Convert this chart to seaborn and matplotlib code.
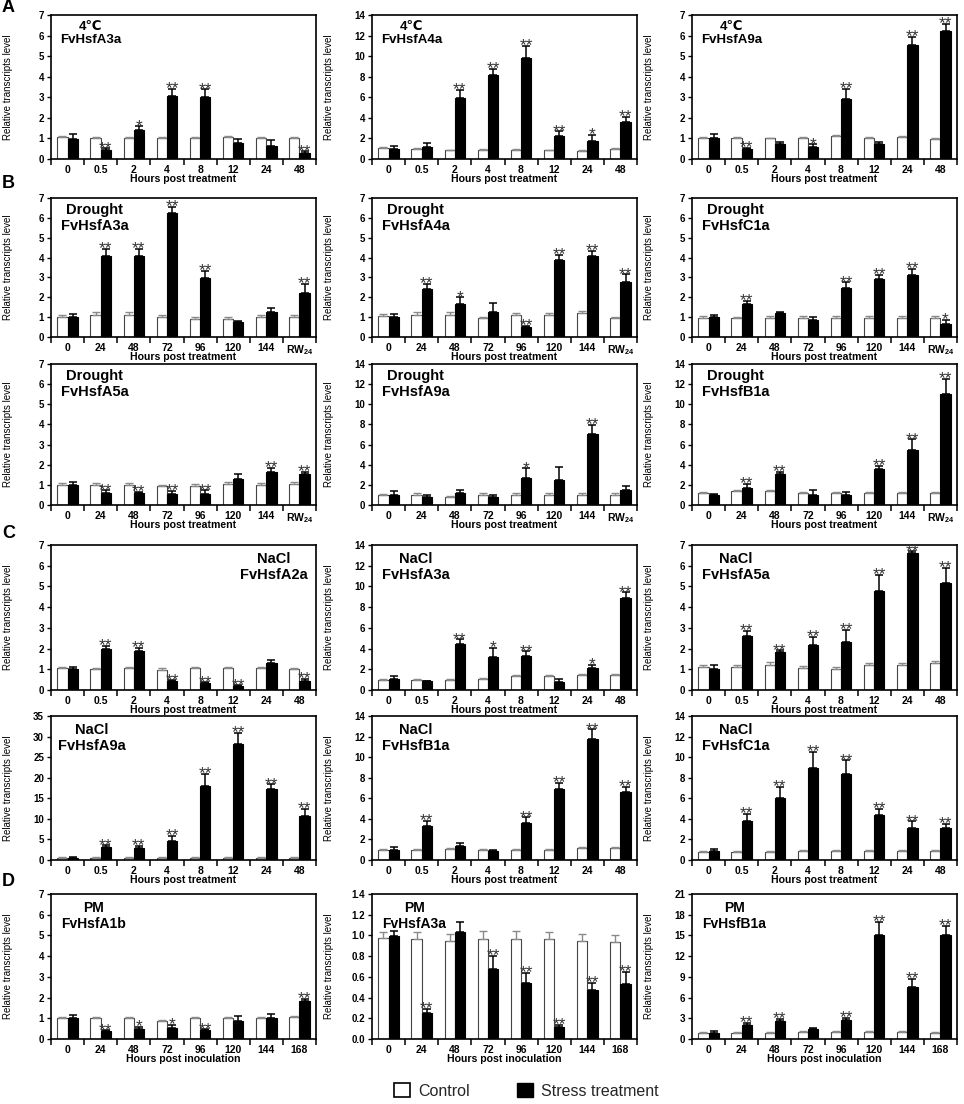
import numpy as np
import pandas as pd
import matplotlib
matplotlib.use('Agg')
import matplotlib.pyplot as plt
import seaborn as sns
from matplotlib.patches import Patch
from matplotlib.ticker import FormatStrFormatter

sns.set_theme(style='ticks')
plt.rcParams['font.family'] = ['Liberation Sans', 'DejaVu Sans']
plt.rcParams['mathtext.default'] = 'regular'

# ---------------- categories ----------------
times_cold = ['0', '0.5', '2', '4', '8', '12', '24', '48']
times_drought = ['0', '24', '48', '72', '96', '120', '144', 'RW$_{24}$']
times_pm = ['0', '24', '48', '72', '96', '120', '144', '168']

# ---------------- A: 4 C ----------------
a1_ctrl = [1.05, 1.02, 1.02, 1.02, 1.02, 1.05, 1.02, 1.02]
a1_ctrl_err = [0.05, 0.04, 0.05, 0.04, 0.04, 0.05, 0.04, 0.04]
a1_str = [0.98, 0.42, 1.40, 3.05, 3.00, 0.80, 0.65, 0.28]
a1_str_err = [0.25, 0.10, 0.18, 0.35, 0.38, 0.15, 0.25, 0.10]
a1_sig = ['', '**', '*', '**', '**', '', '', '**']

a2_ctrl = [1.10, 0.95, 0.85, 0.90, 0.90, 0.85, 0.80, 1.00]
a2_ctrl_err = [0.10, 0.08, 0.05, 0.05, 0.05, 0.05, 0.05, 0.08]
a2_str = [1.00, 1.15, 5.95, 8.20, 9.85, 2.25, 1.75, 3.60]
a2_str_err = [0.25, 0.40, 0.80, 0.55, 1.15, 0.45, 0.60, 0.50]
a2_sig = ['', '', '**', '**', '**', '**', '*', '**']

a3_ctrl = [1.02, 1.02, 1.00, 1.02, 1.12, 1.03, 1.07, 0.97]
a3_ctrl_err = [0.05, 0.04, 0.04, 0.04, 0.06, 0.05, 0.06, 0.06]
a3_str = [1.02, 0.47, 0.75, 0.60, 2.92, 0.75, 5.54, 6.24]
a3_str_err = [0.20, 0.08, 0.10, 0.12, 0.48, 0.10, 0.40, 0.33]
a3_sig = ['', '**', '', '*', '**', '', '**', '**']

# ---------------- B: Drought ----------------
b1_ctrl = [1.00, 1.12, 1.12, 1.00, 0.93, 0.93, 1.02, 1.02]
b1_ctrl_err = [0.10, 0.12, 0.12, 0.10, 0.08, 0.06, 0.10, 0.08]
b1_str = [1.02, 4.08, 4.08, 6.26, 2.97, 0.75, 1.25, 2.24]
b1_str_err = [0.15, 0.35, 0.35, 0.30, 0.37, 0.08, 0.20, 0.43]
b1_sig = ['', '**', '**', '**', '**', '', '', '**']

b2_ctrl = [1.05, 1.12, 1.12, 0.95, 1.12, 1.12, 1.20, 0.95]
b2_ctrl_err = [0.10, 0.12, 0.12, 0.08, 0.10, 0.10, 0.12, 0.08]
b2_str = [1.00, 2.43, 1.66, 1.28, 0.52, 3.90, 4.07, 2.76]
b2_str_err = [0.15, 0.25, 0.33, 0.42, 0.05, 0.25, 0.27, 0.40]
b2_sig = ['', '**', '*', '', '**', '**', '**', '**']

b3_ctrl = [0.97, 0.95, 0.97, 0.97, 0.97, 0.97, 0.97, 0.97]
b3_ctrl_err = [0.08, 0.08, 0.08, 0.08, 0.08, 0.08, 0.08, 0.08]
b3_str = [1.00, 1.68, 1.20, 0.88, 2.45, 2.93, 3.10, 0.63]
b3_str_err = [0.12, 0.13, 0.08, 0.12, 0.31, 0.21, 0.33, 0.22]
b3_sig = ['', '**', '', '', '**', '**', '**', '*']

b4_ctrl = [1.00, 0.97, 1.00, 0.93, 0.95, 1.02, 1.00, 1.02]
b4_ctrl_err = [0.10, 0.10, 0.10, 0.08, 0.08, 0.10, 0.10, 0.10]
b4_str = [1.00, 0.60, 0.62, 0.55, 0.57, 1.27, 1.64, 1.56]
b4_str_err = [0.15, 0.12, 0.05, 0.15, 0.15, 0.27, 0.20, 0.10]
b4_sig = ['', '**', '**', '**', '**', '', '**', '**']

b5_ctrl = [1.00, 0.95, 0.80, 0.95, 0.95, 0.95, 0.95, 0.95]
b5_ctrl_err = [0.12, 0.20, 0.12, 0.20, 0.20, 0.20, 0.20, 0.20]
b5_str = [0.95, 0.75, 1.20, 0.75, 2.73, 2.50, 7.00, 1.50]
b5_str_err = [0.40, 0.25, 0.25, 0.25, 0.90, 1.30, 0.93, 0.40]
b5_sig = ['', '', '', '', '*', '', '**', '']

b6_ctrl = [1.20, 1.40, 1.40, 1.20, 1.20, 1.20, 1.20, 1.20]
b6_ctrl_err = [0.08, 0.10, 0.10, 0.08, 0.08, 0.08, 0.08, 0.08]
b6_str = [1.00, 1.68, 3.10, 0.95, 0.95, 3.57, 5.43, 11.07]
b6_str_err = [0.05, 0.40, 0.20, 0.50, 0.35, 0.35, 1.10, 1.45]
b6_sig = ['', '**', '**', '', '', '**', '**', '**']

# ---------------- C: NaCl ----------------
c1_ctrl = [1.05, 1.00, 1.05, 0.98, 1.05, 1.05, 1.05, 1.02]
c1_ctrl_err = [0.06, 0.08, 0.08, 0.08, 0.08, 0.08, 0.08, 0.06]
c1_str = [1.00, 1.99, 1.86, 0.42, 0.32, 0.18, 1.32, 0.45]
c1_str_err = [0.12, 0.15, 0.17, 0.05, 0.05, 0.04, 0.14, 0.10]
c1_sig = ['', '**', '**', '**', '**', '**', '', '**']

c2_ctrl = [1.00, 1.00, 1.00, 1.05, 1.35, 1.35, 1.45, 1.45]
c2_ctrl_err = [0.05, 0.05, 0.05, 0.10, 0.12, 0.12, 0.12, 0.12]
c2_str = [1.05, 0.85, 4.43, 3.16, 3.32, 0.75, 2.12, 8.86]
c2_str_err = [0.35, 0.05, 0.47, 0.90, 0.41, 0.30, 0.32, 0.57]
c2_sig = ['', '', '**', '*', '**', '', '*', '**']

c3_ctrl = [1.10, 1.10, 1.22, 1.07, 1.03, 1.22, 1.22, 1.30]
c3_ctrl_err = [0.10, 0.10, 0.12, 0.10, 0.08, 0.10, 0.10, 0.12]
c3_str = [1.00, 2.61, 1.85, 2.16, 2.34, 4.79, 6.61, 5.16]
c3_str_err = [0.20, 0.24, 0.06, 0.42, 0.55, 0.77, 0.08, 0.74]
c3_sig = ['', '**', '**', '**', '**', '**', '**', '**']

c4_ctrl = [0.60, 0.55, 0.60, 0.60, 0.60, 0.60, 0.60, 0.60]
c4_ctrl_err = [0.15, 0.15, 0.15, 0.15, 0.15, 0.15, 0.15, 0.15]
c4_str = [0.50, 3.20, 3.00, 4.60, 18.00, 28.30, 17.30, 10.60]
c4_str_err = [0.15, 0.40, 0.50, 1.30, 3.00, 2.60, 1.10, 1.80]
c4_sig = ['', '**', '**', '**', '**', '**', '**', '**']

c5_ctrl = [1.00, 1.00, 1.10, 1.00, 1.00, 1.00, 1.20, 1.15]
c5_ctrl_err = [0.10, 0.10, 0.10, 0.10, 0.10, 0.10, 0.10, 0.10]
c5_str = [0.95, 3.30, 1.35, 0.90, 3.55, 6.90, 11.80, 6.60]
c5_str_err = [0.30, 0.50, 0.30, 0.10, 0.60, 0.60, 0.90, 0.50]
c5_sig = ['', '**', '', '', '**', '**', '**', '**']

c6_ctrl = [0.80, 0.75, 0.80, 0.85, 0.90, 0.85, 0.85, 0.90]
c6_ctrl_err = [0.10, 0.10, 0.10, 0.10, 0.10, 0.10, 0.10, 0.10]
c6_str = [0.90, 3.80, 6.00, 8.90, 8.40, 4.40, 3.15, 3.10]
c6_str_err = [0.20, 0.70, 1.10, 1.60, 1.30, 0.60, 0.60, 0.40]
c6_sig = ['', '**', '**', '**', '**', '**', '**', '**']

# ---------------- D: PM ----------------
d1_ctrl = [1.00, 1.00, 1.02, 0.85, 1.00, 1.00, 1.00, 1.05]
d1_ctrl_err = [0.06, 0.06, 0.06, 0.06, 0.06, 0.06, 0.06, 0.06]
d1_str = [1.00, 0.37, 0.50, 0.52, 0.42, 0.85, 1.00, 1.85]
d1_str_err = [0.15, 0.05, 0.10, 0.15, 0.05, 0.25, 0.20, 0.10]
d1_sig = ['', '**', '*', '*', '**', '', '', '**']

d2_ctrl = [0.98, 0.97, 0.95, 0.97, 0.97, 0.97, 0.95, 0.94]
d2_ctrl_err = [0.05, 0.06, 0.06, 0.07, 0.07, 0.06, 0.06, 0.06]
d2_str = [0.99, 0.25, 1.03, 0.68, 0.54, 0.12, 0.47, 0.53]
d2_str_err = [0.05, 0.04, 0.10, 0.12, 0.10, 0.02, 0.07, 0.12]
d2_sig = ['', '**', '', '**', '**', '**', '**', '**']

d3_ctrl = [0.90, 0.80, 0.80, 1.00, 1.00, 1.00, 1.00, 0.90]
d3_ctrl_err = [0.15, 0.15, 0.15, 0.15, 0.15, 0.15, 0.15, 0.15]
d3_str = [0.80, 2.00, 2.60, 1.40, 2.70, 15.00, 7.60, 15.10]
d3_str_err = [0.30, 0.30, 0.30, 0.20, 0.40, 2.00, 1.10, 1.30]
d3_sig = ['', '**', '**', '', '**', '**', '**', '**']

# ---------------- panel settings ----------------
panels = [
    # row, col, cats, ctrl, ctrl_err, str, str_err, sig, ymax, ystep, label, xlab, tx, ty, ha, tfs
    (0, 0, times_cold, a1_ctrl, a1_ctrl_err, a1_str, a1_str_err, a1_sig, 7, 1, '4℃\nFvHsfA3a', 'Hours post treatment', 0.15, 0.96, 'center', 9.5),
    (0, 1, times_cold, a2_ctrl, a2_ctrl_err, a2_str, a2_str_err, a2_sig, 14, 2, '4℃\nFvHsfA4a', 'Hours post treatment', 0.15, 0.96, 'center', 9.5),
    (0, 2, times_cold, a3_ctrl, a3_ctrl_err, a3_str, a3_str_err, a3_sig, 7, 1, '4℃\nFvHsfA9a', 'Hours post treatment', 0.15, 0.96, 'center', 9.5),
    (1, 0, times_drought, b1_ctrl, b1_ctrl_err, b1_str, b1_str_err, b1_sig, 7, 1, 'Drought\nFvHsfA3a', 'Hours post treatment', 0.165, 0.965, 'center', 10.5),
    (1, 1, times_drought, b2_ctrl, b2_ctrl_err, b2_str, b2_str_err, b2_sig, 7, 1, 'Drought\nFvHsfA4a', 'Hours post treatment', 0.165, 0.965, 'center', 10.5),
    (1, 2, times_drought, b3_ctrl, b3_ctrl_err, b3_str, b3_str_err, b3_sig, 7, 1, 'Drought\nFvHsfC1a', 'Hours post treatment', 0.165, 0.965, 'center', 10.5),
    (2, 0, times_drought, b4_ctrl, b4_ctrl_err, b4_str, b4_str_err, b4_sig, 7, 1, 'Drought\nFvHsfA5a', 'Hours post treatment', 0.165, 0.965, 'center', 10.5),
    (2, 1, times_drought, b5_ctrl, b5_ctrl_err, b5_str, b5_str_err, b5_sig, 14, 2, 'Drought\nFvHsfA9a', 'Hours post treatment', 0.165, 0.965, 'center', 10.5),
    (2, 2, times_drought, b6_ctrl, b6_ctrl_err, b6_str, b6_str_err, b6_sig, 14, 2, 'Drought\nFvHsfB1a', 'Hours post treatment', 0.165, 0.965, 'center', 10.5),
    (3, 0, times_cold, c1_ctrl, c1_ctrl_err, c1_str, c1_str_err, c1_sig, 7, 1, 'NaCl\nFvHsfA2a', 'Hours post treatment', 0.84, 0.95, 'center', 10.5),
    (3, 1, times_cold, c2_ctrl, c2_ctrl_err, c2_str, c2_str_err, c2_sig, 14, 2, 'NaCl\nFvHsfA3a', 'Hours post treatment', 0.165, 0.95, 'center', 10.5),
    (3, 2, times_cold, c3_ctrl, c3_ctrl_err, c3_str, c3_str_err, c3_sig, 7, 1, 'NaCl\nFvHsfA5a', 'Hours post treatment', 0.165, 0.95, 'center', 10.5),
    (4, 0, times_cold, c4_ctrl, c4_ctrl_err, c4_str, c4_str_err, c4_sig, 35, 5, 'NaCl\nFvHsfA9a', 'Hours post treatment', 0.155, 0.95, 'center', 10.5),
    (4, 1, times_cold, c5_ctrl, c5_ctrl_err, c5_str, c5_str_err, c5_sig, 14, 2, 'NaCl\nFvHsfB1a', 'Hours post treatment', 0.165, 0.95, 'center', 10.5),
    (4, 2, times_cold, c6_ctrl, c6_ctrl_err, c6_str, c6_str_err, c6_sig, 14, 2, 'NaCl\nFvHsfC1a', 'Hours post treatment', 0.165, 0.95, 'center', 10.5),
    (5, 0, times_pm, d1_ctrl, d1_ctrl_err, d1_str, d1_str_err, d1_sig, 7, 1, 'PM\nFvHsfA1b', 'Hours post inoculation', 0.16, 0.95, 'center', 10),
    (5, 1, times_pm, d2_ctrl, d2_ctrl_err, d2_str, d2_str_err, d2_sig, 1.4, 0.2, 'PM\nFvHsfA3a', 'Hours post inoculation', 0.16, 0.95, 'center', 10),
    (5, 2, times_pm, d3_ctrl, d3_ctrl_err, d3_str, d3_str_err, d3_sig, 21, 3, 'PM\nFvHsfB1a', 'Hours post inoculation', 0.16, 0.95, 'center', 10),
]

W, H = 964, 1104
col_left = [51, 372, 692]
col_w = 265
row_top = [15, 198, 364, 545, 716, 894]
row_bot = [159, 337, 505, 690, 860, 1039]

fig = plt.figure(figsize=(W / 100, H / 100), dpi=100)

for (r, c, cats, ctrl, ctrl_err, strs, strs_err, sig, ymax, ystep, label, xlab,
     tx, ty, ha, tfs) in panels:
    ax = fig.add_axes([col_left[c] / W, 1 - row_bot[r] / H, col_w / W,
                       (row_bot[r] - row_top[r]) / H])
    df = pd.DataFrame({
        'time': list(cats) * 2,
        'value': list(ctrl) + list(strs),
        'group': ['Control'] * len(cats) + ['Stress'] * len(cats),
    })
    sns.barplot(data=df, x='time', y='value', hue='group', order=cats,
                hue_order=['Control', 'Stress'],
                palette={'Control': 'white', 'Stress': 'black'},
                width=0.62, errorbar=None, legend=False,
                edgecolor='black', linewidth=0.8, ax=ax)
    cont_c, cont_s = ax.containers[0], ax.containers[1]
    for b in cont_c:
        b.set_edgecolor('#444444')
    xc = [b.get_x() + b.get_width() / 2 for b in cont_c]
    hc = [b.get_height() for b in cont_c]
    xs = [b.get_x() + b.get_width() / 2 for b in cont_s]
    hs = [b.get_height() for b in cont_s]
    ax.errorbar(xc, hc, yerr=[np.zeros(len(hc)), ctrl_err], fmt='none',
                ecolor='#8a8a8a', elinewidth=1.0, capsize=2.6, capthick=1.0)
    ax.errorbar(xs, hs, yerr=[np.zeros(len(hs)), strs_err], fmt='none',
                ecolor='black', elinewidth=1.1, capsize=2.8, capthick=1.1)
    for x, h, e, s in zip(xs, hs, strs_err, sig):
        if s:
            ax.annotate(s, (x, h + e), xytext=(0, -3.2), textcoords='offset points',
                        ha='center', va='baseline', fontsize=12.5, color='#333333')

    ax.set_xlim(-0.5, len(cats) - 0.55)
    ax.set_ylim(0, ymax)
    ax.set_yticks(np.arange(0, ymax + ystep / 2, ystep))
    if ystep < 1:
        ax.yaxis.set_major_formatter(FormatStrFormatter('%.1f'))
    else:
        ax.yaxis.set_major_formatter(FormatStrFormatter('%d'))
    ax.set_xticks(np.arange(-0.5, len(cats), 1))
    ax.set_xticklabels([''] * len(np.arange(-0.5, len(cats), 1)))
    ax.set_xticks(np.arange(len(cats)), labels=cats, minor=True)
    ax.tick_params(axis='x', which='major', length=4.5, width=1.1, direction='out', color='black')
    ax.tick_params(axis='x', which='minor', length=0, pad=4.5, labelsize=7.5)
    ax.tick_params(axis='y', which='major', length=3, width=1.0, direction='out',
                   labelsize=7, pad=2, color='black')
    for t in ax.get_xticklabels(minor=True) + ax.get_yticklabels():
        t.set_fontweight('bold')
        t.set_color('black')
    for sp in ax.spines.values():
        sp.set_visible(True)
        sp.set_color('black')
        sp.set_linewidth(1.2)
    ax.set_xlabel(xlab, fontsize=7.6, fontweight='bold', color='black')
    ax.xaxis.set_label_coords(0.5, -0.105)
    ax.set_ylabel('Relative transcripts level', fontsize=7, color='black')
    ax.yaxis.set_label_coords(-38 / col_w, 0.5)
    ax.text(tx, ty, label, transform=ax.transAxes, ha=ha, va='top',
            fontsize=tfs, fontweight='bold', color='black', linespacing=1.15,
            multialignment='center')

for letter, yy in [('A', 8), ('B', 184), ('C', 533), ('D', 882)]:
    fig.text(2 / W, 1 - yy / H, letter, fontsize=13, fontweight='bold',
             ha='left', va='center', color='black')

handles = [Patch(facecolor='white', edgecolor='black', linewidth=1.2, label='Control'),
           Patch(facecolor='black', edgecolor='black', label='Stress treatment')]
fig.legend(handles=handles, loc='center', bbox_to_anchor=(0.546, 1 - 1091 / H),
           ncol=2, frameon=False, fontsize=11.5, handlelength=1.0, handleheight=1.0,
           columnspacing=3.0, handletextpad=0.5)

fig.savefig('out.png', dpi=100)
